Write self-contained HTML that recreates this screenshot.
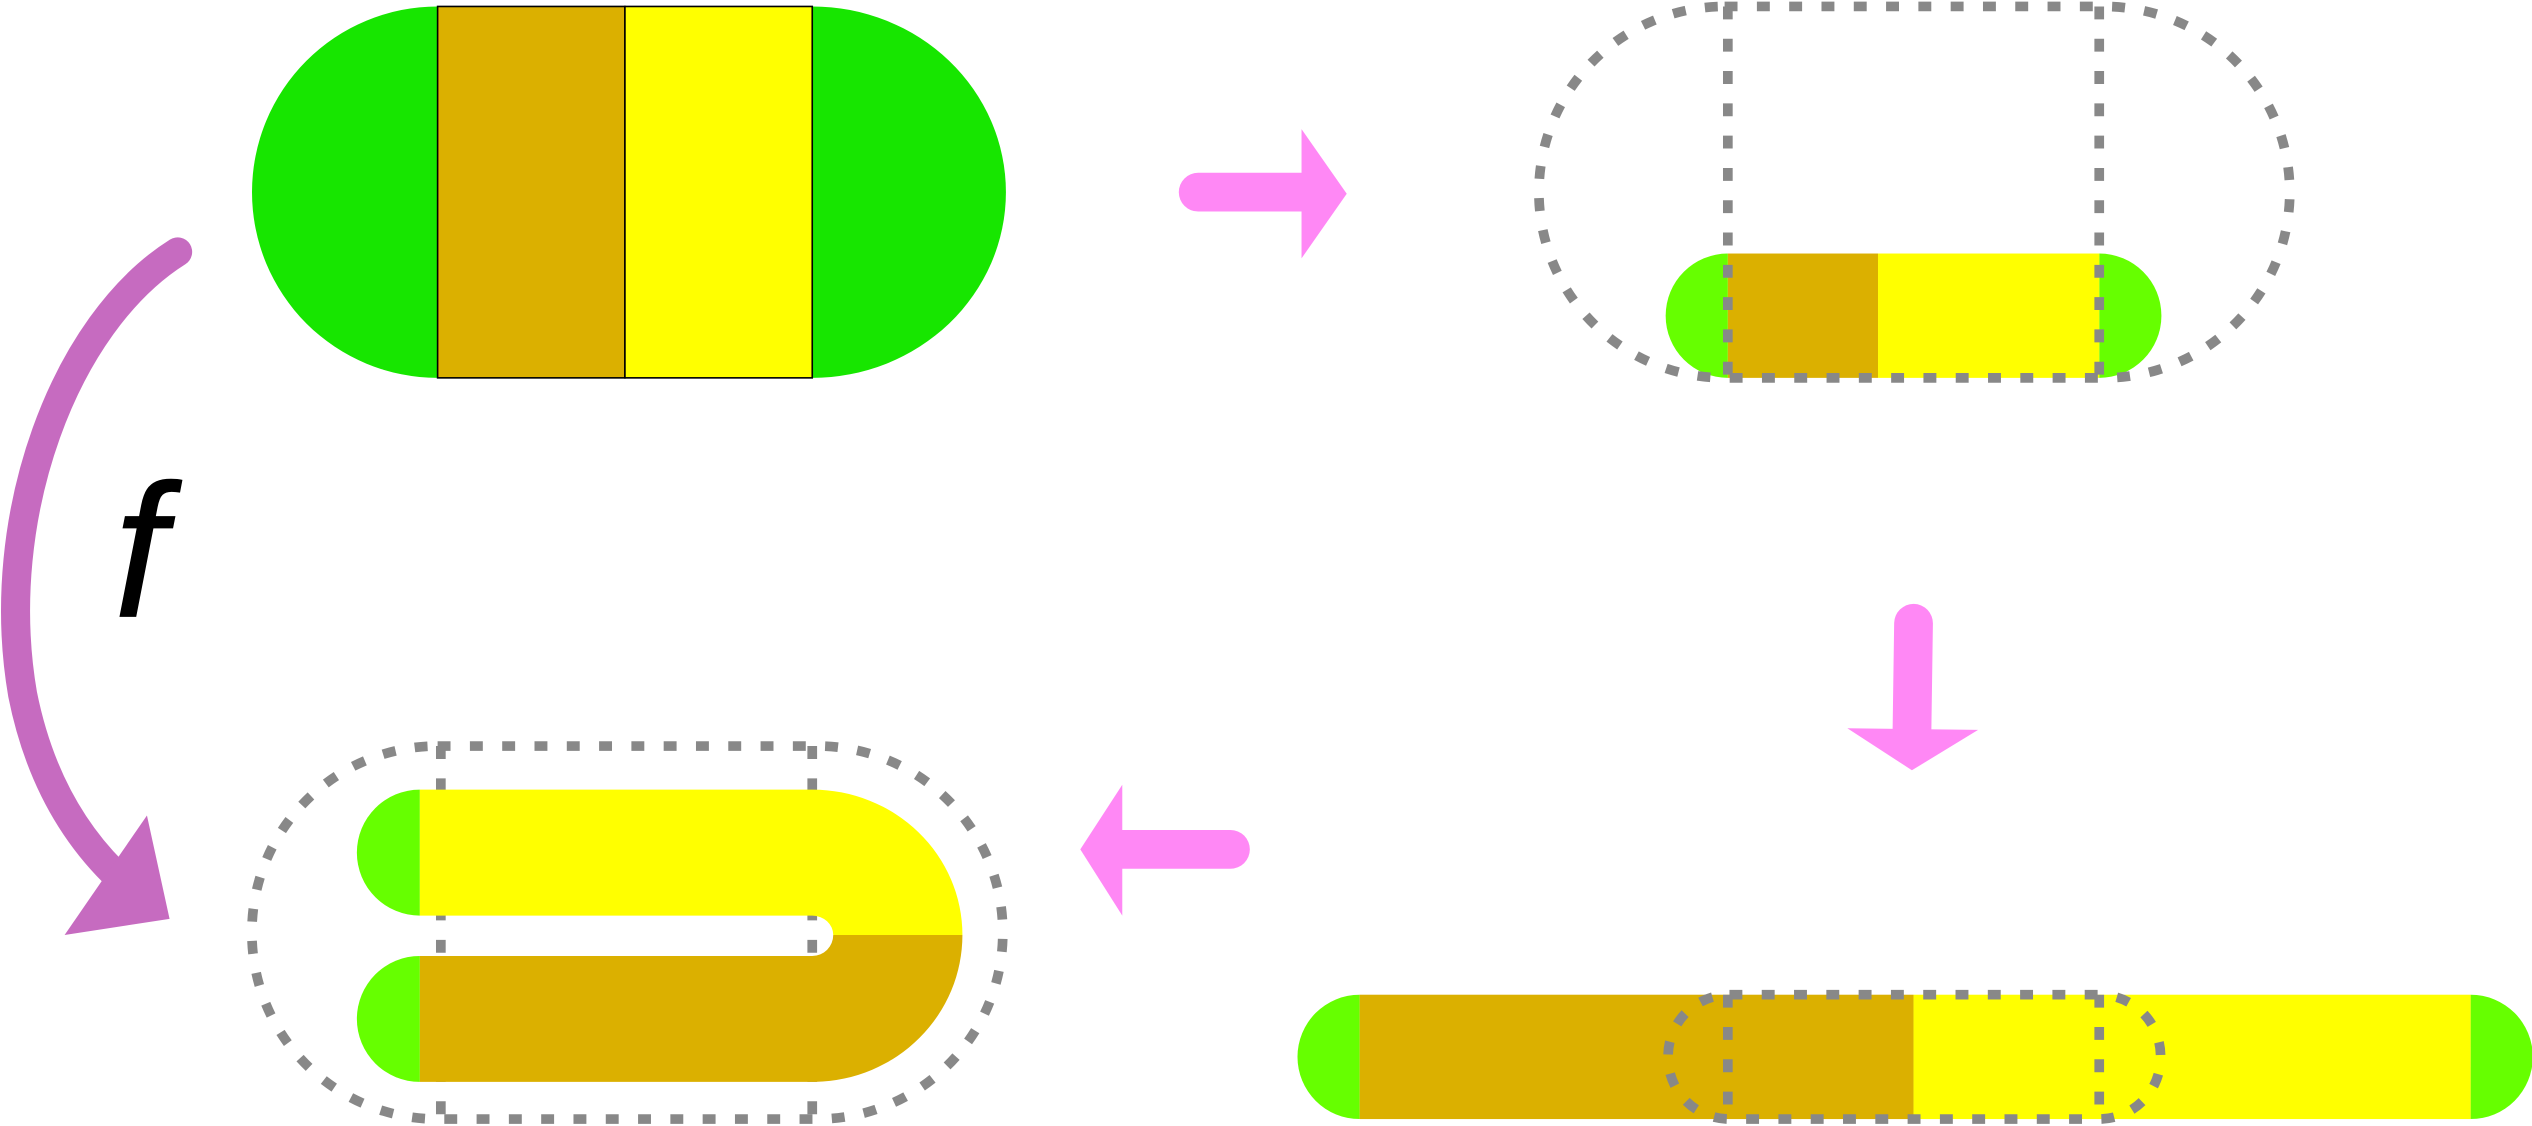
<!DOCTYPE html>
<html><head><meta charset="utf-8"><style>html,body{margin:0;padding:0;background:#fff;}svg{display:block}</style></head>
<body>
<svg width="2532" height="1126" viewBox="0 0 1568 697.3" preserveAspectRatio="none" xmlns="http://www.w3.org/2000/svg">
<!-- top-left capsule -->
<path d="M271,4 A115,115 0 0 0 271,234 Z" fill="#17e600"/>
<path d="M503,4 A120,115 0 0 1 503,234 Z" fill="#17e600"/>
<rect x="271" y="4" width="116" height="230" fill="#dbb000" stroke="#000" stroke-width="1"/>
<rect x="387" y="4" width="116" height="230" fill="#ffff00" stroke="#000" stroke-width="1"/>

<!-- right arrow -->
<line x1="742" y1="119" x2="810" y2="119" stroke="#ff88f5" stroke-width="24" stroke-linecap="round"/>
<polygon points="806,80 834,120 806,160" fill="#ff88f5"/>

<!-- top-right -->
<path d="M1070,157 A38.5,38.5 0 0 0 1070,234 Z" fill="#66ff00"/>
<path d="M1300,157 A38.5,38.5 0 0 1 1300,234 Z" fill="#66ff00"/>
<rect x="1070" y="157" width="93" height="77" fill="#dbb000"/>
<rect x="1163" y="157" width="137" height="77" fill="#ffff00"/>
<g fill="none" stroke="#888" stroke-width="6" stroke-dasharray="8 12">
<rect x="953" y="4" width="465" height="230" rx="115" ry="115"/>
<line x1="1070" y1="4" x2="1070" y2="234"/>
<line x1="1300" y1="4" x2="1300" y2="234"/>
</g>

<!-- down arrow -->
<line x1="1185" y1="386" x2="1184" y2="455" stroke="#ff88f5" stroke-width="24" stroke-linecap="round"/>
<polygon points="1144,451 1225,452 1184,477" fill="#ff88f5"/>

<!-- bottom-right long capsule -->
<path d="M842,616 A38.5,38.5 0 0 0 842,693 Z" fill="#66ff00"/>
<path d="M1530,616 A38.5,38.5 0 0 1 1530,693 Z" fill="#66ff00"/>
<rect x="842" y="616" width="343" height="77" fill="#dbb000"/>
<rect x="1185" y="616" width="345" height="77" fill="#ffff00"/>
<g fill="none" stroke="#888" stroke-width="6" stroke-dasharray="8 12">
<rect x="1033" y="616" width="305" height="77" rx="38" ry="38"/>
<line x1="1070" y1="616" x2="1070" y2="693"/>
<line x1="1300" y1="616" x2="1300" y2="693"/>
</g>

<!-- left arrow -->
<line x1="762" y1="526" x2="692" y2="526" stroke="#ff88f5" stroke-width="24" stroke-linecap="round"/>
<polygon points="695,486 669,526 695,567" fill="#ff88f5"/>

<!-- bottom-left folded -->
<g fill="none" stroke="#888" stroke-width="6" stroke-dasharray="8 12">
<line x1="273" y1="462" x2="273" y2="693"/>
<line x1="503" y1="462" x2="503" y2="693"/>
</g>
<path d="M260,489 A39,39 0 0 0 260,567 Z" fill="#66ff00"/>
<path d="M260,592 A39,39 0 0 0 260,670 Z" fill="#66ff00"/>
<path d="M260,489 H503 A93,90 0 0 1 596,579 H516 A13,12 0 0 0 503,567 H260 Z" fill="#ffff00"/>
<path d="M260,592 H503 A13,13 0 0 0 516,579 H596 A93,91 0 0 1 505,670 H260 Z" fill="#dbb000"/>
<g fill="none" stroke="#888" stroke-width="6" stroke-dasharray="8 12">
<rect x="156" y="462" width="465" height="231" rx="115" ry="115"/>
</g>

<!-- curved f arrow -->
<path d="M110,156 C40,200 -5,320 14,430 C24,480 45,515 70,540" fill="none" stroke="#c66bc0" stroke-width="18" stroke-linecap="round"/>
<polygon points="40,579 105,569 91,505" fill="#c66bc0"/>
<text x="70" y="382" font-family="Liberation Sans, sans-serif" font-style="italic" font-size="118" fill="#000">f</text>
</svg>
</body></html>
